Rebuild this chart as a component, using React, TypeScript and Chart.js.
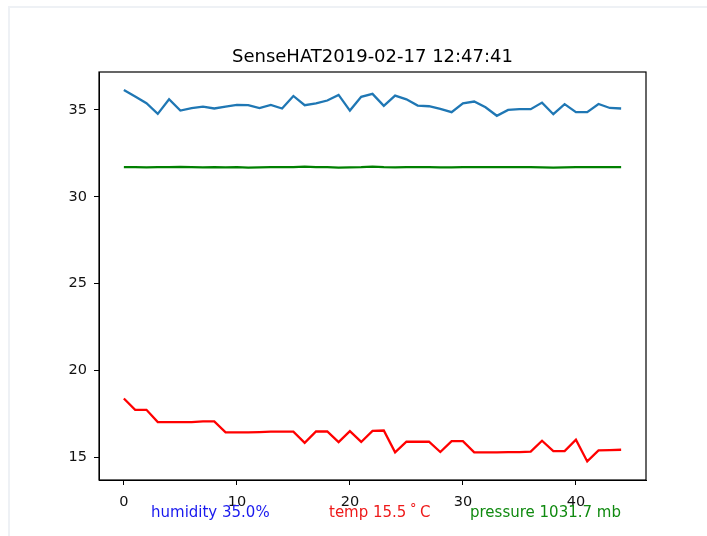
import { useEffect, useRef } from "react";
import { Chart, registerables } from "chart.js";

Chart.register(...registerables);

const TITLE = "SenseHAT2019-02-17 12:47:41";

const humidity = [36.15, 35.77, 35.38, 34.77, 35.61, 34.96, 35.10, 35.19, 35.08, 35.19, 35.29, 35.27, 35.10, 35.29, 35.08, 35.80, 35.27, 35.38, 35.54, 35.86, 34.96, 35.75, 35.92, 35.23, 35.82, 35.61, 35.25, 35.21, 35.06, 34.87, 35.38, 35.48, 35.15, 34.66, 35.00, 35.04, 35.04, 35.42, 34.75, 35.33, 34.87, 34.87, 35.34, 35.11, 35.08];

const temperature = [18.39, 17.74, 17.74, 17.03, 17.03, 17.03, 17.03, 17.07, 17.07, 16.44, 16.44, 16.44, 16.46, 16.48, 16.48, 16.48, 15.84, 16.49, 16.49, 15.88, 16.51, 15.89, 16.53, 16.55, 15.29, 15.90, 15.90, 15.90, 15.31, 15.94, 15.94, 15.29, 15.29, 15.29, 15.30, 15.30, 15.33, 15.96, 15.36, 15.36, 16.02, 14.77, 15.40, 15.42, 15.44];

// pressure in mb minus 1000
const pressure = [31.71, 31.70, 31.69, 31.70, 31.71, 31.72, 31.70, 31.69, 31.70, 31.69, 31.70, 31.68, 31.69, 31.70, 31.71, 31.70, 31.73, 31.71, 31.70, 31.68, 31.69, 31.70, 31.73, 31.70, 31.69, 31.70, 31.70, 31.70, 31.69, 31.69, 31.70, 31.70, 31.70, 31.70, 31.70, 31.70, 31.70, 31.69, 31.68, 31.69, 31.70, 31.70, 31.70, 31.70, 31.70];

const xTicks = [0, 10, 20, 30, 40];
const yTicks = [15, 20, 25, 30, 35];

const footerLabels = [
  { text: "humidity 35.0%", color: "#1a1aee", x: 151 },
  { text: "temp 15.5\u2009\u02da\u2009C", color: "#ee1a1a", x: 329 },
  { text: "pressure 1031.7 mb", color: "#108a10", x: 470 },
];

const FONT = "'DejaVu Sans', sans-serif";

export default function App() {
  const ref = useRef<HTMLCanvasElement | null>(null);

  useEffect(() => {
    const canvas = ref.current;
    if (!canvas) return;

    const decor = {
      id: "decor",
      afterDraw(chart: any) {
        const { ctx, chartArea } = chart;
        ctx.save();
        // axes box
        ctx.strokeStyle = "#000";
        ctx.lineWidth = 1.2;
        ctx.strokeRect(chartArea.left, chartArea.top, chartArea.right - chartArea.left, chartArea.bottom - chartArea.top);
        // title
        ctx.fillStyle = "#000";
        ctx.font = `18px ${FONT}`;
        ctx.textAlign = "center";
        ctx.textBaseline = "middle";
        ctx.fillText(TITLE, (chartArea.left + chartArea.right) / 2, 57);
        // footer labels
        ctx.font = `15px ${FONT}`;
        ctx.textAlign = "left";
        for (const l of footerLabels) {
          ctx.fillStyle = l.color;
          ctx.fillText(l.text, l.x, 513);
        }
        ctx.restore();
      },
    };

    const chart = new Chart(canvas, {
      type: "line",
      data: {
        datasets: [
          {
            label: "humidity",
            data: humidity.map((v, i) => ({ x: i, y: v })),
            borderColor: "#1f77b4",
            borderWidth: 2.3,
            pointRadius: 0,
            tension: 0,
          },
          {
            label: "pressure",
            data: pressure.map((v, i) => ({ x: i, y: v })),
            borderColor: "#008000",
            borderWidth: 2.3,
            pointRadius: 0,
            tension: 0,
          },
          {
            label: "temp",
            data: temperature.map((v, i) => ({ x: i, y: v })),
            borderColor: "#ff0000",
            borderWidth: 2.3,
            pointRadius: 0,
            tension: 0,
          },
        ],
      },
      options: {
        animation: false,
        responsive: false,
        devicePixelRatio: 1,
        layout: { padding: { top: 72, right: 61, left: 0, bottom: 0 } },
        plugins: { legend: { display: false }, title: { display: false }, tooltip: { enabled: false } },
        scales: {
          x: {
            type: "linear",
            min: -2.2,
            max: 46.2,
            afterBuildTicks: (axis: any) => {
              axis.ticks = xTicks.map((v) => ({ value: v }));
            },
            afterFit: (axis: any) => {
              axis.height = 56;
            },
            grid: { display: true, drawOnChartArea: false, tickLength: 5, color: "#000", lineWidth: 1 },
            border: { display: true, color: "#000", width: 1 },
            ticks: { color: "#111", font: { family: FONT, size: 14.5 }, padding: 9, maxRotation: 0 },
          },
          y: {
            type: "linear",
            min: 13.7,
            max: 37.18,
            afterBuildTicks: (axis: any) => {
              axis.ticks = yTicks.map((v) => ({ value: v }));
            },
            afterFit: (axis: any) => {
              axis.width = 99;
            },
            grid: { display: true, drawOnChartArea: false, tickLength: 5, color: "#000", lineWidth: 1 },
            border: { display: true, color: "#000", width: 1 },
            ticks: { color: "#111", font: { family: FONT, size: 14.5 }, padding: 7 },
          },
        },
      },
      plugins: [decor],
    });

    return () => chart.destroy();
  }, []);

  return (
    <div style={{ position: "absolute", left: 0, top: 0, width: 707, height: 536, background: "#fff", overflow: "hidden" }}>
      <div
        style={{
          position: "absolute",
          left: 8,
          top: 6,
          right: 0,
          bottom: 0,
          borderTop: "2px solid #eef1f5",
          borderLeft: "2px solid #eef1f5",
        }}
      />
      <canvas ref={ref} width={707} height={536} style={{ position: "absolute", left: 0, top: 0, width: 707, height: 536 }} />
    </div>
  );
}
